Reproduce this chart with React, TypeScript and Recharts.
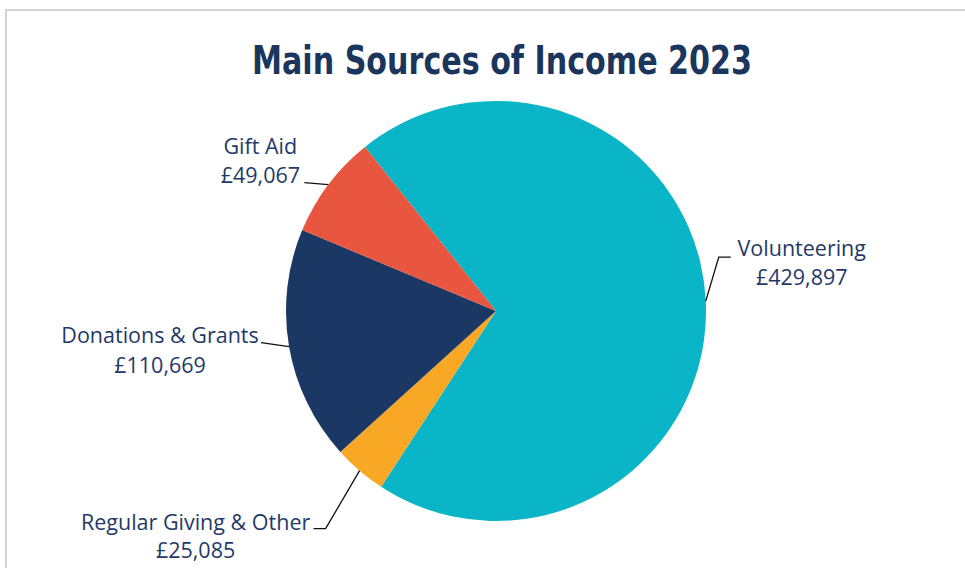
import React from "react";
import { PieChart, Pie, Cell } from "recharts";

const NAMES = ["Volunteering", "Regular Giving & Other", "Donations & Grants", "Gift Aid"];
const VALUES = [429897, 25085, 110669, 49067];
const COLORS = ["#0ab5c8", "#f9a826", "#1b3763", "#e9563f"];

const DATA = NAMES.map((name, i) => ({ name, value: VALUES[i] }));

const TEXT = "#1f3a68";
const RADIAN = Math.PI / 180;

// leader elbow / end + text anchor, relative to the point on the rim
const LEADERS: Record<string, { elbow: [number, number]; end: [number, number]; text: [number, number]; gap: number }> = {
  Volunteering: { elbow: [13, -44], end: [25, -44], text: [96, -45], gap: 29 },
  "Regular Giving & Other": { elbow: [-34, 58], end: [-46, 58], text: [-164, 59], gap: 28 },
  "Donations & Grants": { elbow: [-14, -2], end: [-28, -4], text: [-129, -4], gap: 30 },
  "Gift Aid": { elbow: [-12, -1], end: [-24, -2], text: [-68, -31], gap: 29 },
};

const fmt = (v: number) => "£" + v.toLocaleString("en-GB");

const renderLabel = (props: any) => {
  const { cx, cy, midAngle, outerRadius, name, value } = props;
  const x = cx + outerRadius * Math.cos(-midAngle * RADIAN);
  const y = cy + outerRadius * Math.sin(-midAngle * RADIAN);
  const c = LEADERS[name];
  const pts = [[x, y], [x + c.elbow[0], y + c.elbow[1]], [x + c.end[0], y + c.end[1]]]
    .map((p) => p.join(","))
    .join(" ");
  const tx = x + c.text[0];
  const ty = y + c.text[1];
  return (
    <g>
      <polyline points={pts} fill="none" stroke="#111" strokeWidth={1.3} />
      <text x={tx} y={ty} textAnchor="middle" fill={TEXT} fontSize={21.5} fontFamily="'Open Sans', sans-serif">
        {name}
      </text>
      <text x={tx} y={ty + c.gap} textAnchor="middle" fill={TEXT} fontSize={21.5} fontFamily="'Open Sans', sans-serif">
        {fmt(value)}
      </text>
    </g>
  );
};

export default function App() {
  return (
    <div style={{ position: "relative", width: 965, height: 568, background: "#fff", overflow: "hidden" }}>
      <style>{`html, body { margin: 0; padding: 0; overflow: hidden; }`}</style>
      <div
        style={{
          position: "absolute",
          left: 5,
          top: 9,
          width: 965,
          height: 568,
          borderTop: "2px solid #d3d3d3",
          borderLeft: "2px solid #d3d3d3",
        }}
      />
      <svg width={965} height={568} style={{ position: "absolute", left: 0, top: 0 }}>
        <text
          x={502}
          y={74}
          textAnchor="middle"
          fill="#1b365d"
          fontSize={39}
          fontWeight={700}
          fontFamily="'DejaVu Sans Condensed', 'Liberation Sans Narrow', sans-serif"
          textLength={500}
          lengthAdjust="spacingAndGlyphs"
        >
          Main Sources of Income 2023
        </text>
      </svg>
      <div style={{ position: "absolute", left: 0, top: 0 }}>
        <PieChart width={965} height={568} margin={{ top: 0, right: 0, bottom: 0, left: 0 }}>
          <Pie
            data={DATA}
            dataKey="value"
            nameKey="name"
            cx={496}
            cy={311}
            outerRadius={210}
            startAngle={128.6}
            endAngle={-231.4}
            stroke="none"
            label={renderLabel}
            labelLine={false}
            isAnimationActive={false}
          >
            {DATA.map((d, i) => (
              <Cell key={d.name} fill={COLORS[i]} />
            ))}
          </Pie>
        </PieChart>
      </div>
    </div>
  );
}
